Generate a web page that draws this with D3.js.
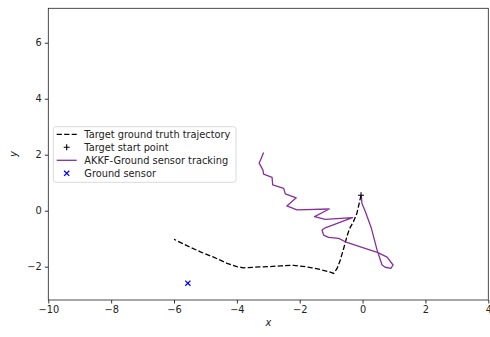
<!DOCTYPE html>
<html>
<head>
<meta charset="utf-8">
<script src="https://cdn.jsdelivr.net/npm/d3@7"></script>
<style>
  html, body { margin: 0; padding: 0; background: #fff; }
  svg { display: block; }
  text { font-family: "DejaVu Sans", sans-serif; }
</style>
</head>
<body>
<svg id="chart" width="490" height="337"></svg>
<script>
// Ground-truth target path (starts at the target start point)
const truthX = [-0.05, -0.1, -0.18, -0.29, -0.42, -0.50, -0.60, -0.72, -0.81, -0.92, -1.1, -1.35, -1.6, -1.82, -2.2, -2.6, -3.0, -3.3, -3.79, -4.0, -4.31, -4.74, -5.16, -5.59, -6.0];
const truthY = [0.55, 0.3, -0.09, -0.39, -0.65, -0.93, -1.34, -1.8, -2.06, -2.24, -2.17, -2.1, -2.04, -2.0, -1.95, -1.97, -2.0, -2.01, -2.04, -2.0, -1.88, -1.66, -1.47, -1.25, -1.02];

// AKKF estimate from the ground sensor
const trackX = [-0.04, -0.02, 0.09, 0.28, 0.46, 0.62, 0.72, 0.90, 0.97, 0.78, 0.49, -0.55, -0.76, -1.08, -1.24, -1.29, -1.19, -0.32, -1.19, -1.53, -1.06, -2.09, -2.41, -2.11, -2.46, -2.51, -2.86, -2.88, -3.15, -3.17, -3.29, -3.22, -3.15];
const trackY = [0.53, 0.26, -0.04, -0.63, -1.40, -1.94, -2.02, -2.06, -1.94, -1.66, -1.50, -1.11, -0.99, -0.95, -0.87, -0.69, -0.61, -0.25, -0.31, -0.21, 0.06, 0.03, 0.17, 0.46, 0.60, 0.80, 0.92, 1.19, 1.31, 1.45, 1.70, 1.88, 2.08];

const startPoint = [-0.05, 0.55];
const sensorPoint = [-5.56, -2.59];

const xTicks = [-10, -8, -6, -4, -2, 0, 2, 4];
const yTicks = [-2, 0, 2, 4, 6];

const legendLabels = ["Target ground truth trajectory", "Target start point", "AKKF-Ground sensor tracking", "Ground sensor"];

const purple = "#86309c";

const svg = d3.select("#chart");
const plot = { left: 48.3, right: 488.3, top: 8.3, bottom: 300 };

const x = d3.scaleLinear().domain([-10, 4]).range([plot.left, plot.right]);
const y = d3.scaleLinear().domain([-3.19, 7.23]).range([plot.bottom, plot.top]);

const fmt = d => (d < 0 ? "\u2212" + Math.abs(d) : String(d));

// axes
const xAxis = svg.append("g")
  .attr("transform", `translate(0,${plot.bottom})`)
  .call(d3.axisBottom(x).tickValues(xTicks).tickFormat(fmt).tickSizeOuter(0).tickSize(3.5).tickPadding(3));
const yAxis = svg.append("g")
  .attr("transform", `translate(${plot.left},0)`)
  .call(d3.axisLeft(y).tickValues(yTicks).tickFormat(fmt).tickSizeOuter(0).tickSize(3.5).tickPadding(3));
[xAxis, yAxis].forEach(g => {
  g.select(".domain").remove();
  g.selectAll(".tick line").attr("stroke", "#000").attr("stroke-width", 0.8);
  g.selectAll(".tick text").attr("fill", "#222").style("font-size", "9.8px").style("font-family", "DejaVu Sans");
});

// frame
svg.append("rect")
  .attr("x", plot.left).attr("y", plot.top)
  .attr("width", plot.right - plot.left).attr("height", plot.bottom - plot.top)
  .attr("fill", "none").attr("stroke", "#222").attr("stroke-width", 0.8);

// axis labels
svg.append("text").attr("x", (plot.left + plot.right) / 2).attr("y", 326)
  .attr("text-anchor", "middle").style("font-size", "9.8px").style("font-style", "italic").attr("fill", "#222").text("x");
svg.append("text").attr("transform", `translate(17,${(plot.top + plot.bottom) / 2}) rotate(-90)`)
  .attr("text-anchor", "middle").style("font-size", "9.8px").style("font-style", "italic").attr("fill", "#222").text("y");

svg.append("defs").append("clipPath").attr("id", "plotclip")
  .append("rect").attr("x", plot.left).attr("y", plot.top)
  .attr("width", plot.right - plot.left).attr("height", plot.bottom - plot.top);
const g = svg.append("g").attr("clip-path", "url(#plotclip)");

const line = d3.line().x(d => x(d[0])).y(d => y(d[1]));

g.append("path")
  .datum(truthX.map((v, i) => [v, truthY[i]]))
  .attr("d", line).attr("fill", "none").attr("stroke", "#000")
  .attr("stroke-width", 1.3).attr("stroke-dasharray", "5.2,2.3");

g.append("path")
  .datum(trackX.map((v, i) => [v, trackY[i]]))
  .attr("d", line).attr("fill", "none").attr("stroke", purple)
  .attr("stroke-width", 1.3).attr("stroke-linejoin", "round");

function plus(sel, cx, cy, r, color) {
  sel.append("path").attr("d", `M${cx - r},${cy}H${cx + r}M${cx},${cy - r}V${cy + r}`)
    .attr("stroke", color).attr("stroke-width", 1.1).attr("fill", "none");
}
function cross(sel, cx, cy, r, color) {
  sel.append("path").attr("d", `M${cx - r},${cy - r}L${cx + r},${cy + r}M${cx - r},${cy + r}L${cx + r},${cy - r}`)
    .attr("stroke", color).attr("stroke-width", 1.3).attr("fill", "none");
}

plus(g, x(startPoint[0]), y(startPoint[1]), 3, "#000");
cross(g, x(sensorPoint[0]), y(sensorPoint[1]), 2.6, "#0000ff");

// legend
const lg = svg.append("g");
lg.append("rect").attr("x", 53.3).attr("y", 126.7).attr("width", 182.7).attr("height", 55.6)
  .attr("rx", 2.5).attr("fill", "#fff").attr("fill-opacity", 0.8)
  .attr("stroke", "#d0d0d0").attr("stroke-width", 0.8);
const rowY = [134.3, 147.3, 160.3, 173.3];
legendLabels.forEach((t, i) => {
  lg.append("text").attr("x", 84.3).attr("y", rowY[i]).attr("dy", "0.35em")
    .style("font-size", "9.8px").attr("fill", "#222").text(t);
});
lg.append("line").attr("x1", 56.7).attr("x2", 76.7).attr("y1", rowY[0]).attr("y2", rowY[0])
  .attr("stroke", "#000").attr("stroke-width", 1.3).attr("stroke-dasharray", "5.2,2.3");
plus(lg, 66.7, rowY[1], 3, "#000");
lg.append("line").attr("x1", 56.7).attr("x2", 76.7).attr("y1", rowY[2]).attr("y2", rowY[2])
  .attr("stroke", purple).attr("stroke-width", 1.3);
cross(lg, 66.7, rowY[3], 2.6, "#0000ff");
</script>
</body>
</html>
